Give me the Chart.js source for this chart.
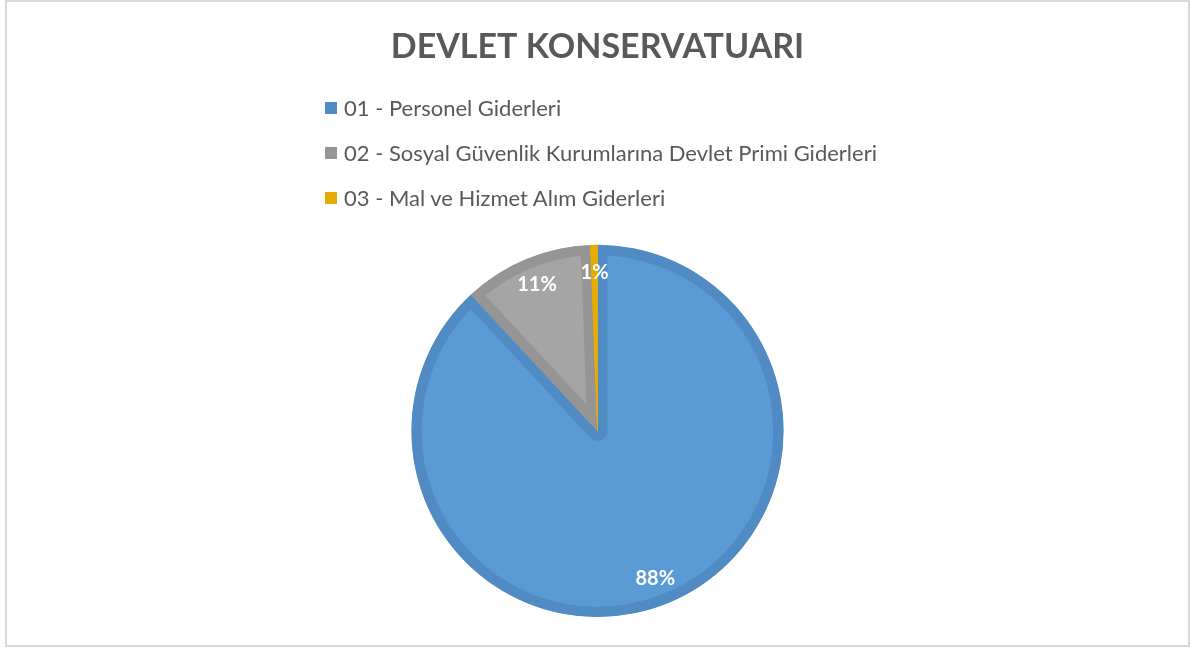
<!DOCTYPE html>
<html>
<head>
<meta charset="utf-8">
<script src="https://cdn.jsdelivr.net/npm/chart.js@4.4.1/dist/chart.umd.min.js"></script>
<style>
  html, body { margin: 0; padding: 0; background: #ffffff; }
  #wrap { position: relative; width: 1190px; height: 648px; overflow: hidden; }
  #frame { position: absolute; left: 5px; top: 0px; width: 1181px; height: 643px; border: 2px solid #d9d9d9; box-sizing: content-box; pointer-events: none; }
  canvas { position: absolute; left: 0; top: 0; }
  #legend { position: absolute; left: 325px; top: 85px; font-family: Lato, "Open Sans", sans-serif; font-size: 22px; color: #595959; }
  #legend .item { display: flex; align-items: center; height: 45px; white-space: nowrap; }
  #legend .box { width: 12px; height: 12px; margin-right: 7px; }
</style>
</head>
<body>
<div id="wrap">
  <canvas id="c" width="1190" height="648"></canvas>
  <div id="legend"></div>
  <div id="frame"></div>
</div>
<script>
const chartTitle = "DEVLET KONSERVATUARI";
const categories = [
  "01 - Personel Giderleri",
  "02 - Sosyal Güvenlik Kurumlarına Devlet Primi Giderleri",
  "03 - Mal ve Hizmet Alım Giderleri"
];
const shares = [88.1, 11.3, 0.6];
const percentLabels = ["88%", "11%", "1%"];
const fillColors = ["#5b9bd5", "#a5a5a5", "#ffc000"];
const edgeColors = ["#508bc4", "#959595", "#e6ad00"];

const labelPlugin = {
  id: 'insideEndLabels',
  afterDatasetsDraw(chart) {
    const ctx = chart.ctx;
    const meta = chart.getDatasetMeta(0);
    ctx.save();
    ctx.font = 'bold 20px Lato, "Open Sans", sans-serif';
    ctx.fillStyle = '#ffffff';
    ctx.textAlign = 'center';
    ctx.textBaseline = 'middle';
    meta.data.forEach((arc, i) => {
      const p = arc.getProps(['x', 'y', 'startAngle', 'endAngle', 'outerRadius'], true);
      const mid = (p.startAngle + p.endAngle) / 2;
      const r = p.outerRadius - 28;
      ctx.fillText(percentLabels[i], p.x + Math.cos(mid) * r, p.y + Math.sin(mid) * r);
    });
    ctx.restore();
  }
};

const chart = new Chart(document.getElementById('c'), {
  type: 'pie',
  data: {
    labels: categories,
    datasets: [{
      data: shares,
      backgroundColor: fillColors,
      borderColor: edgeColors,
      borderWidth: 10,
      borderAlign: 'inner'
    }]
  },
  options: {
    responsive: false,
    animation: false,
    layout: { padding: { top: 0, bottom: 31, left: 5, right: 0 } },
    plugins: {
      legend: { display: false },
      tooltip: { enabled: false },
      title: {
        display: true,
        text: chartTitle,
        color: '#595959',
        font: { family: 'Lato, "Open Sans", sans-serif', size: 34, weight: 'bold', lineHeight: 1.2 },
        padding: { top: 27, bottom: 177 }
      }
    }
  },
  plugins: [labelPlugin]
});

const legendEl = document.getElementById('legend');
categories.forEach((name, i) => {
  const item = document.createElement('div');
  item.className = 'item';
  const box = document.createElement('span');
  box.className = 'box';
  box.style.background = edgeColors[i];
  const txt = document.createElement('span');
  txt.textContent = name;
  item.appendChild(box);
  item.appendChild(txt);
  legendEl.appendChild(item);
});
</script>
</body>
</html>
